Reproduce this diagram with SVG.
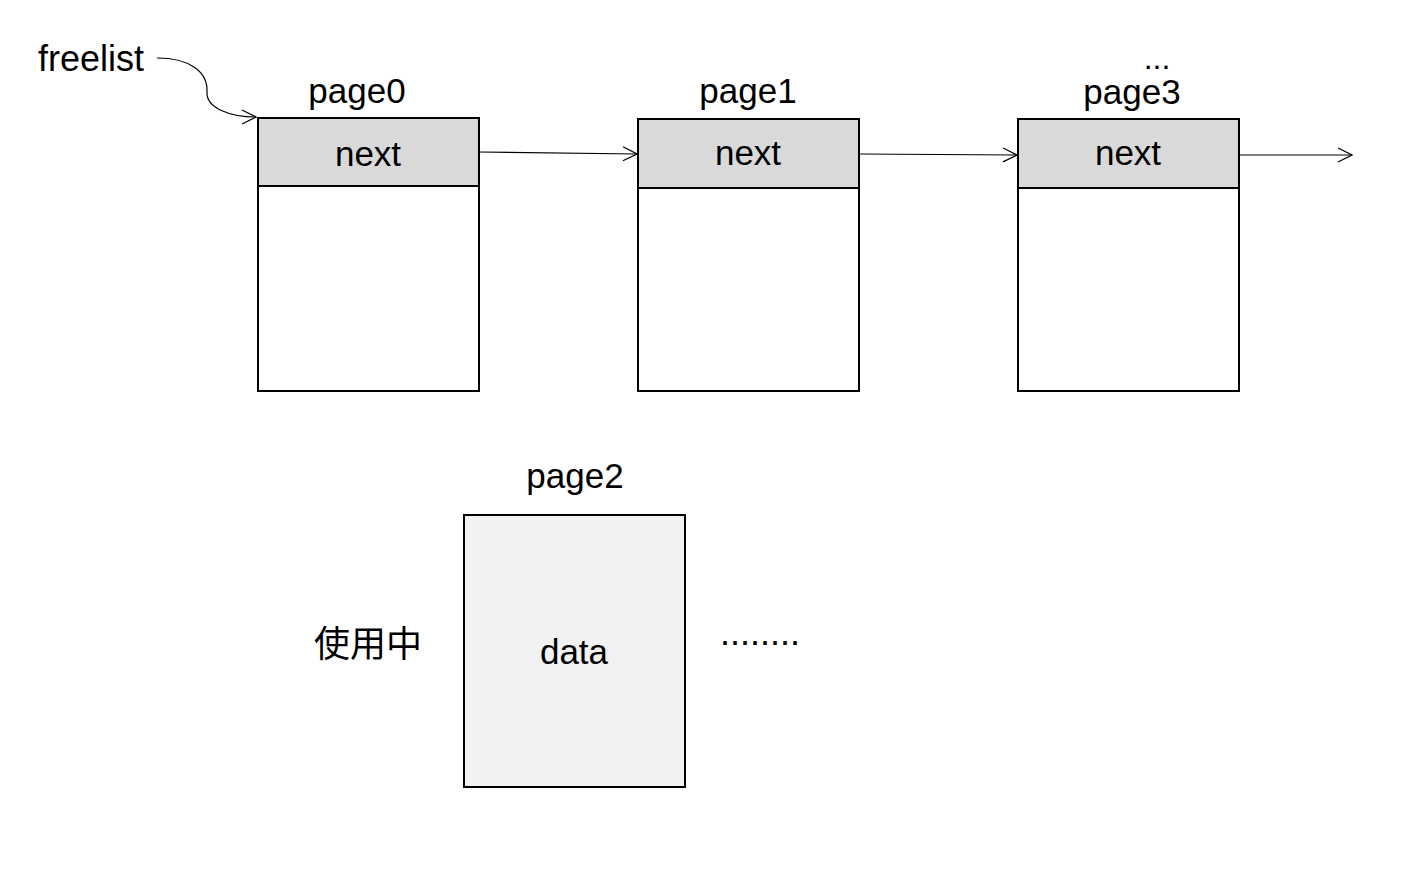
<svg xmlns="http://www.w3.org/2000/svg" width="1416" height="872" viewBox="0 0 1416 872">
<style>
text{font-family:"Liberation Sans",Arial,"Noto Sans CJK SC",sans-serif;fill:#000}
.lbl{font-size:35px;text-anchor:middle}
.box{fill:#fff;stroke:#000;stroke-width:2}
.hdr{fill:#d9d9d9;stroke:#000;stroke-width:2}
.conn{fill:none;stroke:#000;stroke-width:1.2}
</style>
<defs>
<marker id="arr" markerWidth="16" markerHeight="16" refX="15" refY="8" orient="auto" markerUnits="userSpaceOnUse">
<path d="M1,1 L15,8 L1,15" fill="none" stroke="#000" stroke-width="1.2"/>
</marker>
</defs>
<rect width="1416" height="872" fill="#fff"/>
<g id="freelist"><text x="38" y="71" style="font-size:36px">freelist</text></g>
<g id="page0">
<text class="lbl" x="357" y="103">page0</text>
<rect class="box" x="258" y="118" width="221" height="273"/>
<rect class="hdr" x="258" y="118" width="221" height="68"/>
<text class="lbl" x="368" y="166">next</text>
</g>
<g id="page1">
<text class="lbl" x="748" y="103">page1</text>
<rect class="box" x="638" y="119" width="221" height="272"/>
<rect class="hdr" x="638" y="119" width="221" height="69"/>
<text class="lbl" x="748" y="165">next</text>
</g>
<g id="page3">
<text class="lbl" x="1157" y="69" style="font-size:32px">...</text>
<text class="lbl" x="1132" y="104">page3</text>
<rect class="box" x="1018" y="119" width="221" height="272"/>
<rect class="hdr" x="1018" y="119" width="221" height="69"/>
<text class="lbl" x="1128" y="165">next</text>
</g>
<g id="page2">
<text class="lbl" x="575" y="488">page2</text>
<rect x="464" y="515" width="221" height="272" fill="#f2f2f2" stroke="#000" stroke-width="2"/>
<text class="lbl" x="574" y="664">data</text>
</g>
<g id="inuse"><text x="314" y="657" style="font-size:36px">使用中</text></g>
<g id="dots"><text x="720" y="645" style="font-size:36px">........</text></g>
<g id="connectors">
<path class="conn" d="M157,58 C190,58 208,72 207,92 C206,108 230,117 256,117" marker-end="url(#arr)"/>
<path class="conn" d="M479,152 L637,154" marker-end="url(#arr)"/>
<path class="conn" d="M859,154 L1017,155" marker-end="url(#arr)"/>
<path class="conn" d="M1239,155 L1352,155" marker-end="url(#arr)"/>
</g>
</svg>
